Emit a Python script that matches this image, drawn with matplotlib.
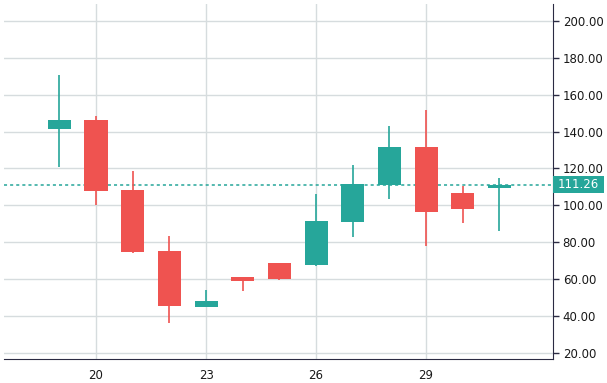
import matplotlib
matplotlib.use("Agg")
import matplotlib.pyplot as plt
import matplotlib.transforms as mtransforms
from matplotlib.patches import Rectangle

# Daily candles (day of month, OHLC)
days = [19, 20, 21, 22, 23, 24, 25, 26, 27, 28, 29, 30, 31]
opens = [141.4, 146.3, 108.4, 75.3, 45.1, 61.2, 68.8, 67.8, 91.2, 111.2, 131.7, 106.7, 109.4]
highs = [170.7, 148.5, 118.7, 83.4, 54.1, 61.2, 68.8, 106.2, 121.9, 143.1, 151.7, 110.5, 114.9]
lows = [121.0, 100.2, 74.3, 36.4, 45.0, 53.7, 59.7, 67.3, 83.0, 103.6, 78.1, 90.6, 86.3]
closes = [146.3, 108.0, 74.9, 45.6, 48.2, 59.2, 60.3, 91.5, 111.6, 131.7, 96.4, 98.2, 111.26]

x_ticks = [20, 23, 26, 29]
y_ticks = [20, 40, 60, 80, 100, 120, 140, 160, 180, 200]

UP = "#26a69a"
DOWN = "#ef5350"
GRID = "#d6dcde"
AXIS = "#2b2b43"
TEXT = "#191919"

W, H = 607, 383
fig = plt.figure(figsize=(W / 100, H / 100), dpi=100)
ax = fig.add_axes([4 / W, 24 / H, 549 / W, 355 / H])

# candles
for d, o, h, l, c in zip(days, opens, highs, lows, closes):
    col = UP if c >= o else DOWN
    ax.vlines(d, l, h, color=col, lw=1.2, zorder=3)
    ax.bar(d, max(abs(c - o), 0.6), bottom=min(o, c), width=0.63,
           color=col, zorder=4, linewidth=0)

# last price line + label
last = closes[-1]
ax.axhline(last, color=UP, lw=1.1, linestyle=(0, (2, 2)), zorder=2)
trans = mtransforms.blended_transform_factory(ax.transAxes, ax.transData)
half = 8.5 / 1.844
ax.add_patch(Rectangle((1.0, last - half), 51 / 549, 2 * half, transform=trans,
                       facecolor=UP, edgecolor="none", clip_on=False, zorder=5))
ax.text(1.0 + 25.5 / 549, last, f"{last:.2f}", transform=trans, ha="center",
        va="center", color="white", fontsize=8.5, clip_on=False, zorder=6)

ax.set_xlim(17.49, 32.46)
ax.set_ylim(16.7, 209.2)

ax.set_xticks(x_ticks)
ax.set_xticklabels([str(t) for t in x_ticks])
ax.set_yticks(y_ticks)
ax.set_yticklabels([f"{t:.2f}" for t in y_ticks])

ax.yaxis.tick_right()
ax.tick_params(axis="y", length=4, width=1, color=AXIS, labelcolor=TEXT,
               labelsize=8.5, pad=3)
ax.tick_params(axis="x", length=0, labelcolor=TEXT, labelsize=8.5, pad=7)

ax.grid(True, color=GRID, lw=1, zorder=0)
ax.set_axisbelow(True)

for side in ["top", "left"]:
    ax.spines[side].set_visible(False)
ax.spines["right"].set_color(AXIS)
ax.spines["bottom"].set_color(AXIS)

fig.savefig("out.png", dpi=100)
